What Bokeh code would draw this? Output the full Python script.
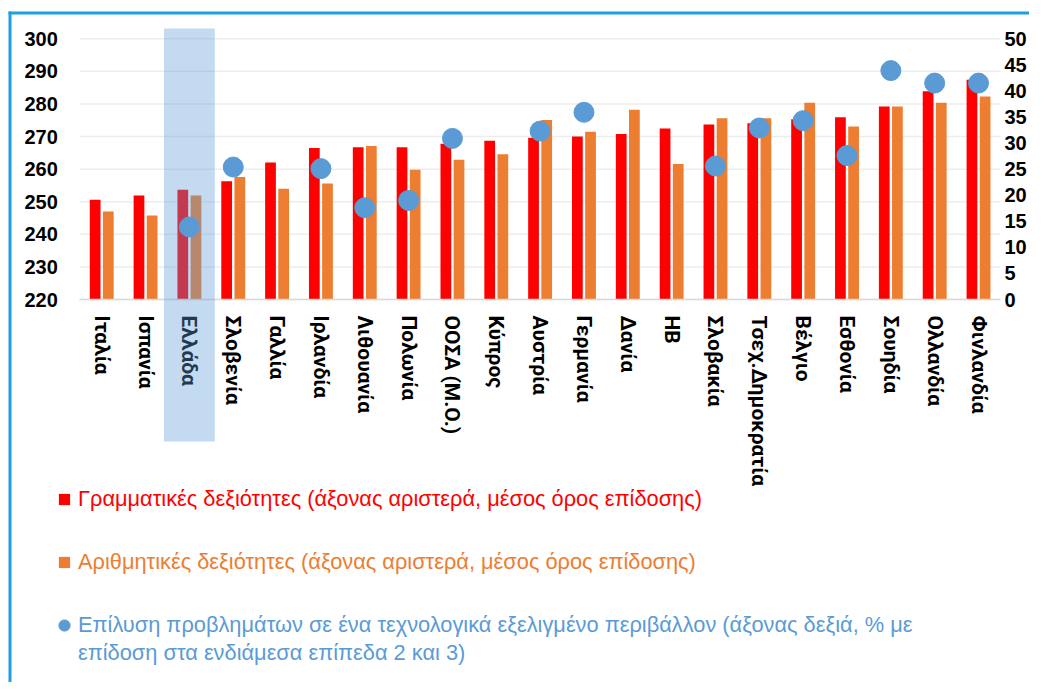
import numpy as np
from bokeh.plotting import figure
from bokeh.models import (BoxAnnotation, Legend, LegendItem, LinearAxis, Range1d,
                          FixedTicker, ColumnDataSource)
from bokeh.transform import dodge
from bokeh.embed import file_html
from bokeh.resources import INLINE

countries = ["Ιταλία", "Ισπανία", "Ελλάδα", "Σλοβενία", "Γαλλία", "Ιρλανδία",
             "Λιθουανία", "Πολωνία", "ΟΟΣΑ (Μ.Ο.)", "Κύπρος", "Αυστρία", "Γερμανία",
             "Δανία", "ΗΒ", "Σλοβακία", "Τσεχ.Δημοκρατία", "Βέλγιο", "Εσθονία",
             "Σουηδία", "Ολλανδία", "Φινλανδία"]
literacy = [250.6, 251.9, 253.7, 256.3, 262.0, 266.5, 266.7, 266.7, 267.8, 268.7, 269.6,
            270.0, 270.8, 272.5, 273.7, 274.1, 275.3, 275.9, 279.2, 283.9, 287.4]
numeracy = [247.0, 245.8, 251.9, 257.6, 254.0, 255.6, 267.1, 259.8, 262.9, 264.6, 275.1,
            271.5, 278.2, 261.6, 275.6, 275.6, 280.4, 273.1, 279.2, 280.4, 282.3]
problem_solving = [np.nan, np.nan, 13.9, 25.4, np.nan, 25.1, 17.6, 19.0, 30.9, np.nan, 32.3,
                   35.9, np.nan, np.nan, 25.6, 32.9, 34.3, 27.6, 43.9, 41.5, 41.5]
left_ticks = [220, 230, 240, 250, 260, 270, 280, 290, 300]
right_ticks = [0, 5, 10, 15, 20, 25, 30, 35, 40, 45, 50]
highlight = "Ελλάδα"

legend_labels = [
    "Γραμματικές δεξιότητες (άξονας αριστερά, μέσος όρος επίδοσης)",
    "Αριθμητικές δεξιότητες (άξονας αριστερά, μέσος όρος επίδοσης)",
    "Επίλυση προβλημάτων σε ένα τεχνολογικά εξελιγμένο περιβάλλον (άξονας δεξιά, % με",
    "επίδοση στα ενδιάμεσα επίπεδα 2 και 3)",
]

RED = "#FF0000"
ORANGE = "#ED7D31"
BLUE = "#5B9BD5"
BORDER = "#1E9FE3"
W, H = 1029, 682

# geometry of the plotting area (pixels)
PX_LEFT, PX_CAT = 79.3, 43.84          # left edge of category 0, width of one category
PY_BASE, PX_PER_UNIT = 299.0, 3.259     # pixel row of 220, pixels per left-axis unit
n = len(countries)
lo, hi = left_ticks[0], left_ticks[-1]
r_hi = right_ticks[-1]
r_px_per_unit = (hi - lo) * PX_PER_UNIT / r_hi

x_range = Range1d(-PX_LEFT / PX_CAT, (W - PX_LEFT) / PX_CAT)
y_range = Range1d(lo - (H - PY_BASE) / PX_PER_UNIT, lo + PY_BASE / PX_PER_UNIT)
r_range = Range1d(-(H - PY_BASE) / r_px_per_unit, PY_BASE / r_px_per_unit)

xc = np.arange(n) + 0.5
src = ColumnDataSource(dict(x=xc, lit=literacy, num=numeracy,
                            ps=np.array(problem_solving, dtype=float)))

p = figure(x_range=x_range, y_range=y_range, width=W, height=H, output_backend="svg",
           toolbar_location=None, title=None, min_border=0, min_border_left=0,
           min_border_right=0, min_border_top=0, min_border_bottom=0,
           x_axis_type=None, y_axis_type=None)
p.outline_line_color = None
p.background_fill_color = "white"
p.border_fill_color = "white"
p.extra_y_ranges = {"r": r_range}

# grid lines (only across the category span)
p.segment(x0=[0] * len(left_ticks), x1=[n] * len(left_ticks), y0=left_ticks, y1=left_ticks,
          line_color="#EDEDED", line_width=1.5)

bar_lit = p.vbar(x=dodge("x", -0.15), top="lit", bottom=lo, width=0.245,
                 source=src, fill_color=RED, line_color=None)
bar_num = p.vbar(x=dodge("x", 0.15), top="num", bottom=lo, width=0.245,
                 source=src, fill_color=ORANGE, line_color=None)
dots = p.scatter(x="x", y="ps", source=src, y_range_name="r", size=20,
                 fill_color=BLUE, line_color=BLUE)


def style_axis(ax, standoff):
    ax.axis_line_color = None
    ax.major_tick_line_color = None
    ax.minor_tick_line_color = None
    ax.major_tick_out = 0
    ax.major_tick_in = 0
    ax.minor_tick_out = 0
    ax.major_label_standoff = standoff
    ax.major_label_text_color = "black"


# left axis
la = LinearAxis(ticker=FixedTicker(ticks=left_ticks), fixed_location=0)
style_axis(la, 22)
la.major_label_text_font = "Liberation Sans"
la.major_label_text_font_style = "bold"
la.major_label_text_font_size = "20px"
p.add_layout(la, "left")

# right axis
ra = LinearAxis(y_range_name="r", ticker=FixedTicker(ticks=right_ticks), fixed_location=n)
style_axis(ra, 4)
ra.major_label_text_font = "Liberation Sans"
ra.major_label_text_font_style = "bold"
ra.major_label_text_font_size = "20px"
p.add_layout(ra, "right")

# category axis
xa = LinearAxis(ticker=FixedTicker(ticks=list(xc)), fixed_location=lo, bounds=(0, n),
                major_label_overrides={float(v): c for v, c in zip(xc, countries)})
style_axis(xa, 16)
xa.axis_line_color = "#D9D9D9"
xa.axis_line_width = 1.5
xa.major_label_orientation = "vertical"
xa.major_label_text_font = "Roboto"
xa.major_label_text_font_style = "bold"
xa.major_label_text_font_size = "21px"
p.add_layout(xa, "below")

# highlight of Greece
gi = countries.index(highlight)
p.add_layout(BoxAnnotation(left=gi + 0.5 - 0.58, right=gi + 0.5 + 0.58, top=28, bottom=441,
                           top_units="canvas", bottom_units="canvas",
                           fill_color=BLUE, fill_alpha=0.37, line_color=None, level="overlay"))

# border (top and left)
p.add_layout(BoxAnnotation(left=8, right=11, top=11, bottom=H, left_units="canvas",
                           right_units="canvas", top_units="canvas", bottom_units="canvas",
                           fill_color=BORDER, fill_alpha=1, line_color=None, level="overlay"))
p.add_layout(BoxAnnotation(left=8, right=W, top=11, bottom=14, left_units="canvas",
                           right_units="canvas", top_units="canvas", bottom_units="canvas",
                           fill_color=BORDER, fill_alpha=1, line_color=None, level="overlay"))

# legend keys: square markers for the bar series (not drawn in the plot), the dots themselves
key_lit = p.scatter(x="x", y="lit", source=src, marker="square", fill_color=RED,
                    line_color=None, visible=False)
key_num = p.scatter(x="x", y="num", source=src, marker="square", fill_color=ORANGE,
                    line_color=None, visible=False)
key_cont = p.scatter(x=[], y=[], marker="circle", fill_alpha=0, line_alpha=0)

for r, lab, col, vy in [(key_lit, legend_labels[0], RED, 168),
                        (key_num, legend_labels[1], ORANGE, 105),
                        (dots, legend_labels[2], BLUE, 42),
                        (key_cont, legend_labels[3], BLUE, 14)]:
    leg = Legend(items=[LegendItem(label=lab, renderers=[r])], location=(50, vy),
                 glyph_width=28, glyph_height=30, label_standoff=0, padding=0, margin=0,
                 spacing=0, border_line_color=None, background_fill_alpha=0,
                 inactive_fill_alpha=0,
                 label_text_font="Liberation Sans", label_text_font_style="normal",
                 label_text_font_size="21.8px", label_text_color=col, label_height=30)
    p.add_layout(leg)

open("out.html", "w").write(file_html(p, INLINE))
